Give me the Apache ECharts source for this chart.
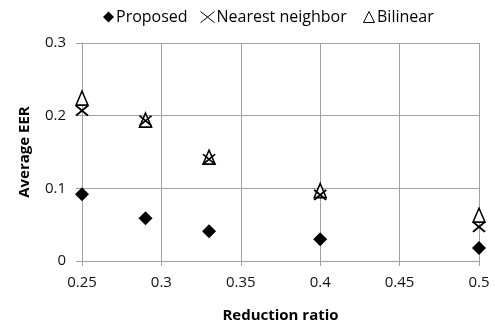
<!DOCTYPE html>
<html><head><meta charset="utf-8">
<script src="https://cdn.jsdelivr.net/npm/echarts@6/dist/echarts.min.js"></script>
<style>html,body{margin:0;padding:0;background:#fff}#c{width:495px;height:325px}</style>
</head><body><div id="c"></div>
<script>
var ratios = [0.25, 0.29, 0.33, 0.40, 0.50];
var proposed = [0.092, 0.059, 0.041, 0.030, 0.018];
var nearest = [0.207, 0.193, 0.140, 0.091, 0.047];
var bilinear = [0.224, 0.194, 0.143, 0.097, 0.063];
var xTicks = ['0.25','0.3','0.35','0.4','0.45','0.5'];
var yTicks = ['0','0.1','0.2','0.3'];

var FONT = '"Open Sans", sans-serif';
var XPATH = 'path://M0,0L10,8M10,0L0,8';
var TRI = 'path://M5,0L10,10L0,10Z';
function pairs(v){ return ratios.map(function(r,i){ return [r, v[i]]; }); }

function leg(left, item, w, h){
  return {
    top: 9, left: left, itemWidth: w, itemHeight: h, padding: 0,
    textStyle: {fontFamily: FONT, fontSize: 16, color: '#000', padding:[0,0,0,-3]},
    data: [item]
  };
}

var chart = echarts.init(document.getElementById('c'));
chart.setOption({
  animation: false,
  textStyle: {fontFamily: FONT},
  legend: [
    leg(103, {name: 'Proposed', icon: 'diamond', itemStyle:{color:'#000', opacity:1}}, 11, 11),
    leg(198, {name: 'Nearest neighbor', icon: XPATH, itemStyle:{color:'none', borderColor:'#000', borderWidth:1, opacity:1}}, 14, 12),
    leg(363, {name: 'Bilinear', icon: TRI, itemStyle:{color:'#fff', borderColor:'#000', borderWidth:1, opacity:1}}, 12, 11)
  ],
  grid: {left: 82, right: 16, top: 43, bottom: 64, containLabel: false, outerBoundsMode: 'none'},
  xAxis: {
    type: 'value', min: 0.25, max: 0.5, interval: 0.05,
    name: 'Reduction ratio', nameLocation: 'middle', nameGap: 47,
    nameTextStyle: {fontFamily: FONT, fontSize: 15, fontWeight: 'bold', color: '#000'},
    axisLine: {show: true, lineStyle: {color: '#a0a0a0', width: 1}},
    axisTick: {show: true, length: 5, lineStyle: {color: '#a0a0a0'}},
    axisLabel: {fontFamily: FONT, fontSize: 15, color: '#111', margin: 14,
      formatter: function(v){ var i = Math.round((v-0.25)/0.05); return xTicks[i]; }},
    splitLine: {show: true, lineStyle: {color: '#a0a0a0', width: 1}}
  },
  yAxis: {
    type: 'value', min: 0, max: 0.3, interval: 0.1,
    name: 'Average EER', nameLocation: 'middle', nameGap: 50, nameRotate: 90,
    nameTextStyle: {fontFamily: FONT, fontSize: 15, fontWeight: 'bold', color: '#000'},
    axisLine: {show: true, lineStyle: {color: '#a0a0a0', width: 1}},
    axisTick: {show: true, length: 6, lineStyle: {color: '#a0a0a0'}},
    axisLabel: {fontFamily: FONT, fontSize: 15, color: '#111', margin: 16,
      formatter: function(v){ return yTicks[Math.round(v*10)]; }},
    splitLine: {show: true, lineStyle: {color: '#a0a0a0', width: 1}}
  },
  series: [
    {name: 'Proposed', type: 'scatter', data: pairs(proposed), symbol: 'diamond', symbolSize: 14,
      itemStyle: {color: '#000', opacity: 1}, z: 3},
    {name: 'Nearest neighbor', type: 'scatter', data: pairs(nearest), symbol: XPATH, symbolSize: [12, 10],
      itemStyle: {color: 'none', borderColor: '#000', borderWidth: 1.8, opacity: 1}, z: 4},
    {name: 'Bilinear', type: 'scatter', data: pairs(bilinear), symbol: TRI, symbolSize: [12, 14],
      itemStyle: {color: '#fff', borderColor: '#000', borderWidth: 1.6, opacity: 1}, z: 2}
  ]
});
</script></body></html>
